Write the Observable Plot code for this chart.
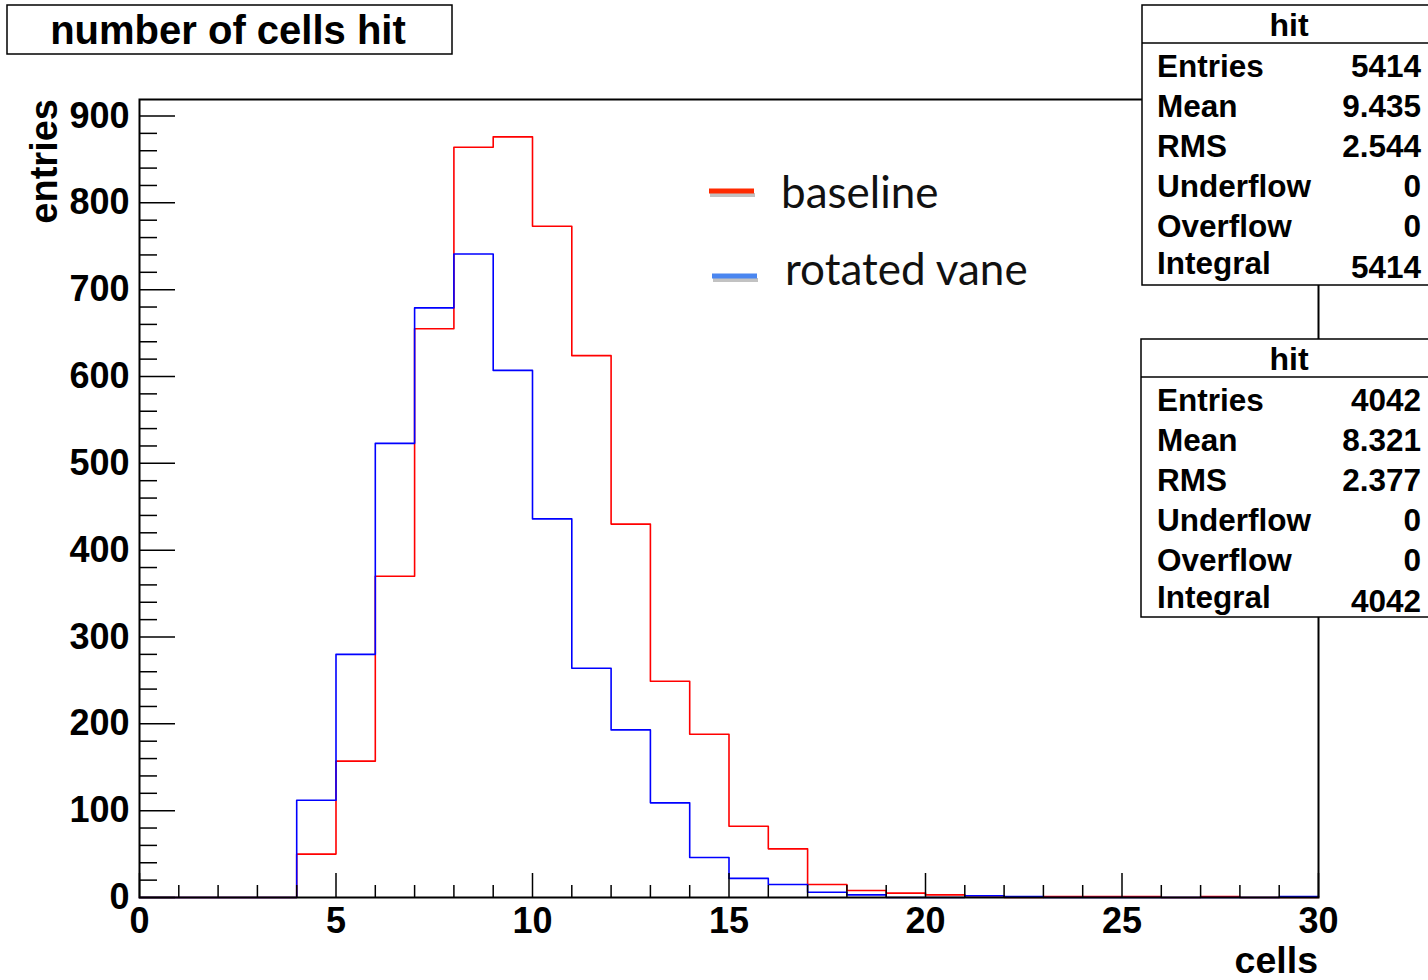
<!DOCTYPE html>
<html><head><meta charset="utf-8">
<script src="https://cdn.jsdelivr.net/npm/d3@7"></script>
<script src="https://cdn.jsdelivr.net/npm/@observablehq/plot@0.6"></script>
<style>
html,body{margin:0;padding:0;background:#fff;}
#chart{position:relative;width:1428px;height:980px;overflow:hidden;}
</style>
</head><body><div id="chart"></div>
<script>
// ---- data ----
const binEdges = [0,1,2,3,4,5,6,7,8,9,10,11,12,13,14,15,16,17,18,19,20,21,22,23,24,25,26,27,28,29,30];
const baseline    = [0,0,0,0,50,157,370,655,864,876,773,624,430,249,188,82,56,15,8,5,3,2,0,1,1,1,0,1,0,0];
const rotatedVane = [0,0,0,0,112,280,523,679,741,607,436,264,193,109,46,22,15,6,3,0,0,2,1,0,0,0,0,0,0,1];
const yMajor = [0,100,200,300,400,500,600,700,800,900];
const yMinor = [20,40,60,80,120,140,160,180,220,240,260,280,320,340,360,380,420,440,460,480,520,540,560,580,620,640,660,680,720,740,760,780,820,840,860,880];
const xMajor = [0,5,10,15,20,25,30];
const xMinor = [1,2,3,4,6,7,8,9,11,12,13,14,16,17,18,19,21,22,23,24,26,27,28,29];
const statLabels = ["Entries","Mean","RMS","Underflow","Overflow","Integral"];
const statsBaseline = ["5414","9.435","2.544","0","0","5414"];
const statsRotated  = ["4042","8.321","2.377","0","0","4042"];
const seriesNames = ["baseline","rotated vane"];
const title = "number of cells hit";
const xLabel = "cells", yLabel = "entries";

// ---- layout ----
const W = 1428, H = 980, mL = 139, mR = 110, mT = 99, mB = 83;
const pw = W - mL - mR, ph = H - mT - mB;
const helv = "'Liberation Sans', Arial, Helvetica, sans-serif";

function steps(vals) {
  const pts = vals.map((v, i) => ({x: binEdges[i], y: v}));
  pts.push({x: binEdges[vals.length], y: vals[vals.length - 1]});
  return pts;
}

const plot = Plot.plot({
  width: W, height: H,
  marginLeft: mL, marginRight: mR, marginTop: mT, marginBottom: mB,
  x: {domain: [0, 30]},
  y: {domain: [0, 919]},
  style: {fontFamily: helv, fontWeight: "bold", fontSize: "36px", background: "white", color: "black", overflow: "visible"},
  marks: [
    Plot.line(steps(baseline), {x: "x", y: "y", curve: "step-after", stroke: "#ff0000", strokeWidth: 1.6}),
    Plot.line(steps(rotatedVane), {x: "x", y: "y", curve: "step-after", stroke: "#0000ff", strokeWidth: 1.6}),
    Plot.ruleY(yMajor, {insetRight: pw - 36, stroke: "black", strokeWidth: 1.5}),
    Plot.ruleY(yMinor, {insetRight: pw - 18, stroke: "black", strokeWidth: 1.5}),
    Plot.ruleX(xMajor, {insetTop: ph - 24, stroke: "black", strokeWidth: 1.5}),
    Plot.ruleX(xMinor, {insetTop: ph - 12, stroke: "black", strokeWidth: 1.5}),
    Plot.frame({stroke: "black", strokeWidth: 2}),
    Plot.axisY(yMajor, {tickSize: 0, tickPadding: 10, label: null, tickFormat: d => String(d)}),
    Plot.axisX(xMajor, {tickSize: 0, tickPadding: 10, label: null, tickFormat: d => String(d)})
  ]
});
document.getElementById("chart").appendChild(plot);

const svg = d3.select(plot);
const g = svg.append("g").attr("text-anchor", "start");

function txt(parent, x, y, s, size, anchor, weight, family) {
  return parent.append("text").attr("x", x).attr("y", y)
    .attr("text-anchor", anchor || "start")
    .attr("font-family", family || helv)
    .attr("font-weight", weight || "bold")
    .attr("font-size", size).attr("fill", "black").text(s);
}

// title box
g.append("rect").attr("x", 7).attr("y", 5).attr("width", 445).attr("height", 49)
  .attr("fill", "white").attr("stroke", "black").attr("stroke-width", 1.5);
txt(g, 228, 44, title, 40, "middle");

// axis titles
g.append("text").attr("transform", "translate(57,99) rotate(-90)").attr("text-anchor", "end")
  .attr("font-family", helv).attr("font-weight", "bold").attr("font-size", 38).text(yLabel);
txt(g, 1318, 973, xLabel, 37.5, "end");

// legend
const legendColors = ["#ff2a00", "#4a86f0"];
const legendY = [191, 276], legendX = [709, 712], legendTX = [781, 785], legendTY = [208, 285];
seriesNames.forEach((name, i) => {
  g.append("line").attr("x1", legendX[i] + 1).attr("x2", legendX[i] + 46).attr("y1", legendY[i] + 4).attr("y2", legendY[i] + 4)
    .attr("stroke", "#999").attr("stroke-opacity", 0.6).attr("stroke-width", 4);
  g.append("line").attr("x1", legendX[i]).attr("x2", legendX[i] + 45).attr("y1", legendY[i]).attr("y2", legendY[i])
    .attr("stroke", legendColors[i]).attr("stroke-width", 5);
  txt(g, legendTX[i], legendTY[i], name, 44, "start", "normal", "Lato, 'Open Sans', sans-serif").attr("fill", "#111");
});

// stats boxes
function statsBox(x0, y0, h, vals) {
  const b = g.append("g");
  b.append("rect").attr("x", x0).attr("y", y0).attr("width", 320).attr("height", h)
    .attr("fill", "white").attr("stroke", "black").attr("stroke-width", 1.5);
  b.append("line").attr("x1", x0).attr("x2", x0 + 320).attr("y1", y0 + 38).attr("y2", y0 + 38)
    .attr("stroke", "black").attr("stroke-width", 1.5);
  txt(b, 1289, y0 + 31, "hit", 32, "middle");
  const offs = [72, 112, 152, 192, 232, 269];
  statLabels.forEach((lab, i) => {
    txt(b, 1157, y0 + offs[i], lab, 31.5, "start");
    txt(b, 1421, y0 + offs[i] + (i === 5 ? 4 : 0), vals[i], 31.5, "end");
  });
}
statsBox(1142, 5, 280, statsBaseline);
statsBox(1141, 339, 278, statsRotated);
</script>
</body></html>
